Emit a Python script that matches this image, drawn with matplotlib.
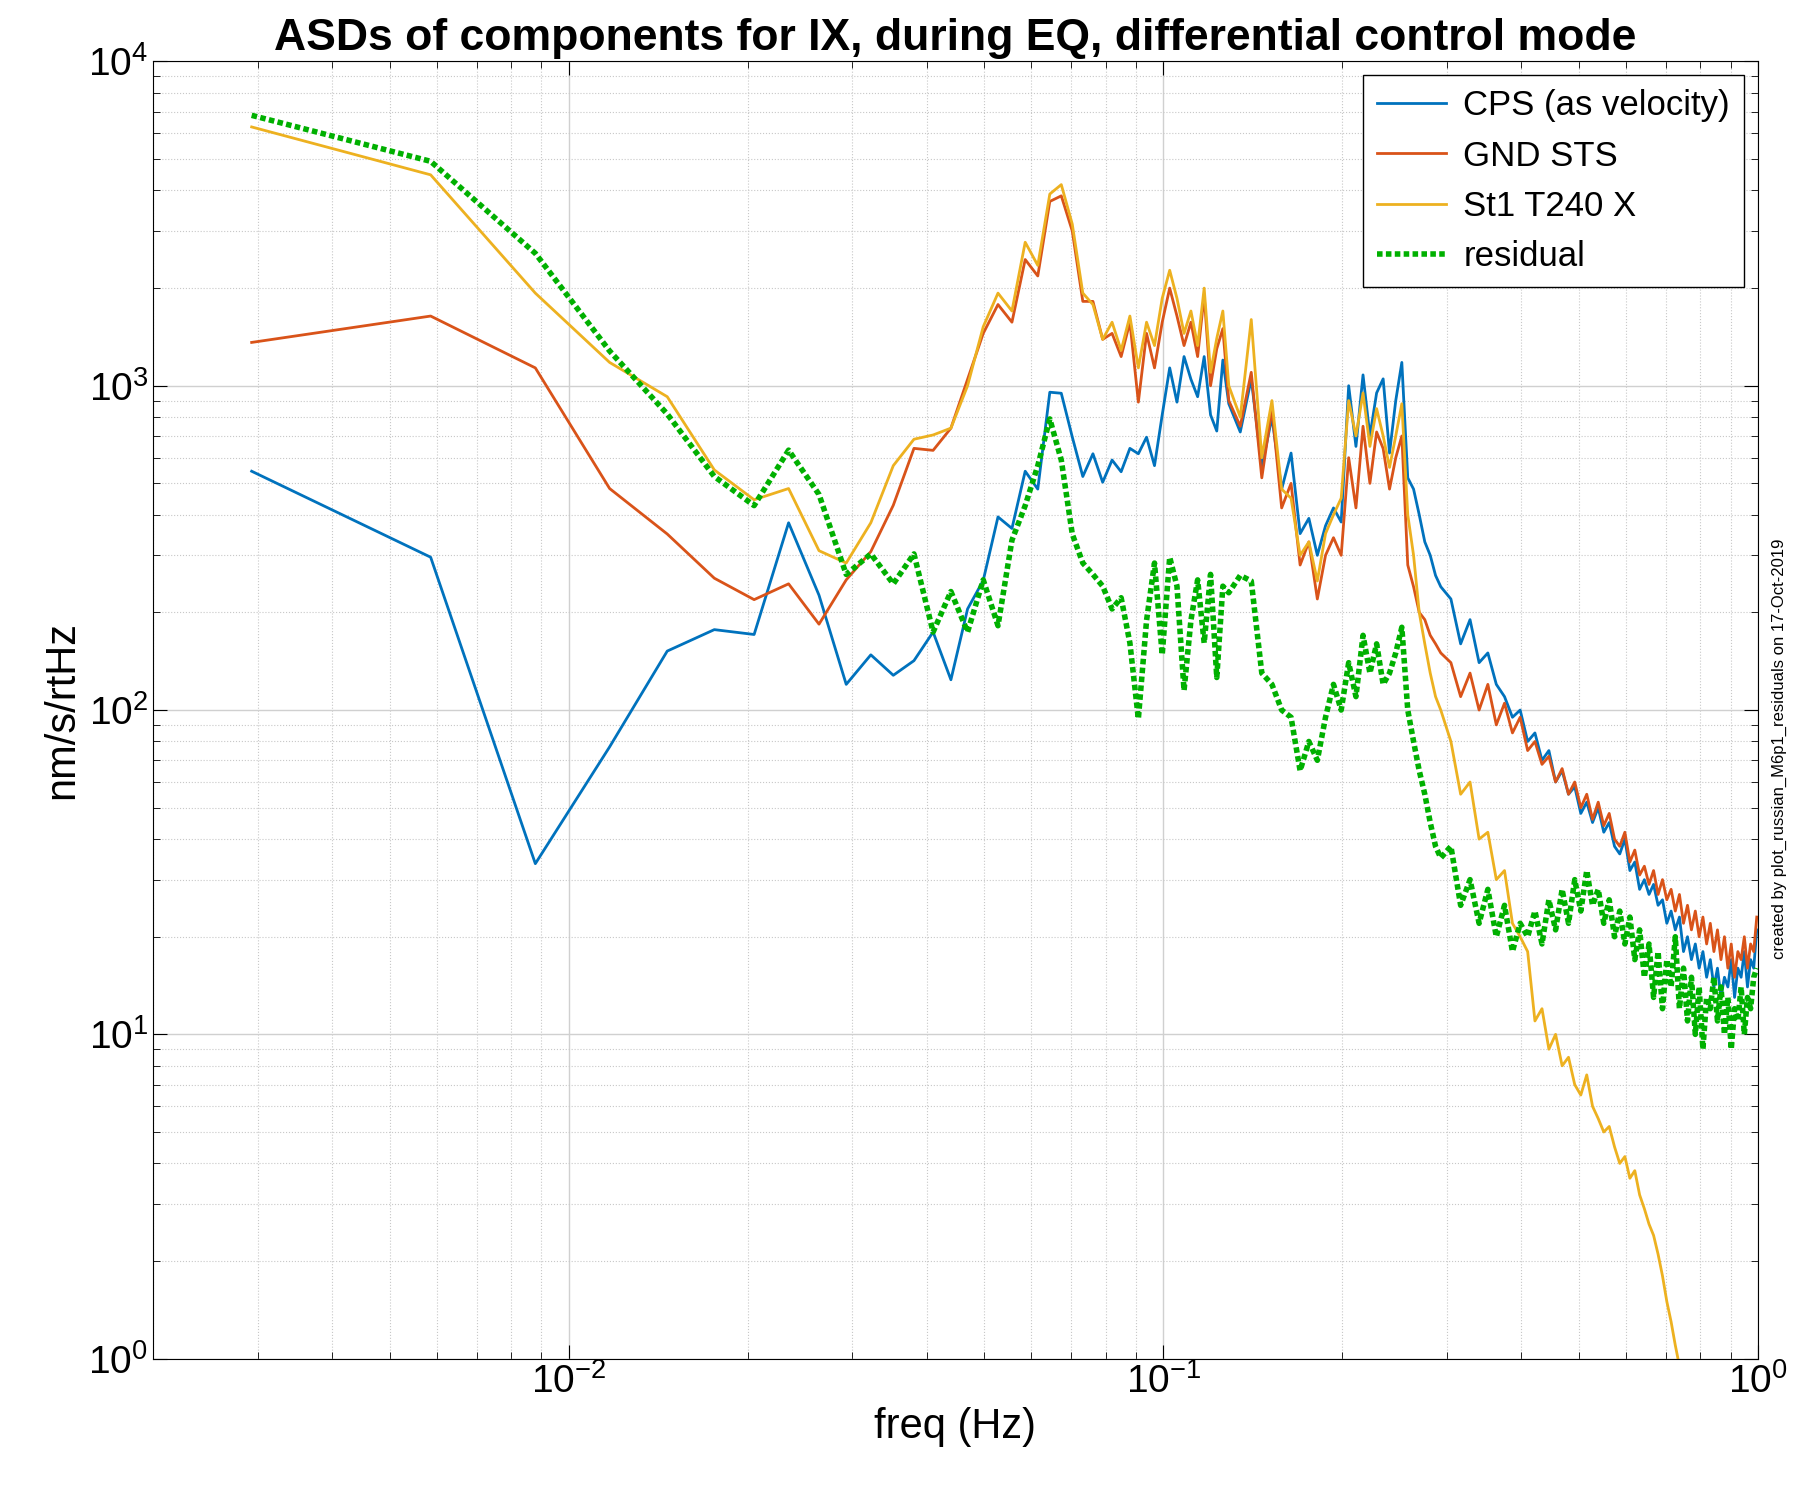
import numpy as np
import matplotlib.pyplot as plt

df = 0.0029297
# frequency bins: every bin up to k=43, every 2nd to k=100, every 4th to k=340
k = np.concatenate([np.arange(1, 44), np.arange(44, 101, 2), np.arange(104, 341, 4)])
freq = df * k

cps = [545, 296, 33.6, 77, 152, 177, 171, 378, 226, 120,
       148, 128, 142, 174, 124, 205, 251, 394, 363, 545,
       480, 955, 948, 695, 525, 617, 504, 590, 543, 641,
       617, 694, 567, 813, 1135, 890, 1230, 1047, 925, 1230,
       813, 725, 1200,
       880, 720, 1050, 560, 800, 480, 620, 350, 390, 300, 370, 420, 380, 1000, 650,
       1080, 700, 950, 1050, 620, 900, 1180, 520, 480, 400, 330, 300, 260, 240,
       220, 160, 190, 140, 150, 120, 110, 95, 100, 80, 85, 70, 75, 60, 65, 55, 58, 48, 52, 45,
       50, 42, 45, 38, 36, 40, 32, 34, 28, 30, 27, 29, 25, 26, 22, 24, 21, 23, 18, 20,
       17, 19, 16, 18, 15, 17, 14, 16, 13, 15, 14, 17, 13, 16, 15, 18, 14, 17, 16, 21]
gnd = [1360, 1640, 1135, 482, 349, 255, 219, 245, 184, 252,
       308, 428, 641, 632, 740, 1047, 1450, 1780, 1570, 2450,
       2180, 3700, 3850, 3000, 1820, 1820, 1390, 1450, 1230, 1570,
       890, 1450, 1135, 1570, 2000, 1640, 1330, 1570, 1230, 1900,
       1000, 1300, 1500,
       900, 750, 1100, 520, 850, 420, 500, 280, 330, 220, 300, 340, 300, 600, 420,
       750, 500, 720, 640, 480, 600, 700, 280, 240, 200, 190, 170, 160, 150,
       140, 110, 130, 100, 120, 90, 105, 85, 95, 75, 80, 68, 72, 60, 66, 55, 60, 50, 55, 46,
       52, 44, 48, 40, 38, 42, 34, 37, 31, 33, 29, 32, 27, 30, 26, 28, 24, 27, 22, 25,
       21, 24, 20, 23, 19, 22, 18, 21, 17, 20, 16, 19, 15, 18, 17, 20, 16, 19, 18, 23]
t240 = [6280, 4470, 1930, 1180, 925, 550, 445, 482, 310, 284,
        378, 567, 684, 705, 740, 1000, 1520, 1930, 1700, 2770,
        2350, 3900, 4170, 3150, 1930, 1780, 1390, 1570, 1285, 1640,
        1135, 1570, 1330, 1860, 2270, 1860, 1450, 1700, 1330, 2000,
        1100, 1400, 1700,
        1000, 800, 1600, 600, 900, 480, 450, 300, 330, 250, 350, 400, 450, 900, 700,
        950, 650, 850, 700, 560, 700, 880, 400, 300, 200, 160, 130, 110, 100,
        80, 55, 60, 40, 42, 30, 32, 22, 20, 18, 11, 12, 9, 10, 8, 8.5, 7, 6.5, 7.5, 6,
        5.5, 5, 5.2, 4.5, 4, 4.2, 3.6, 3.8, 3.2, 2.9, 2.6, 2.4, 2.1, 1.8, 1.5, 1.3, 1.1, 0.95, 0.85, 0.75,
        0.7, 0.65, 0.6, 0.58, 0.55, 0.52, 0.5, 0.48, 0.46, 0.44, 0.42, 0.4, 0.38, 0.36, 0.35, 0.34, 0.33, 0.32, 0.31, 0.3]
resid = [6820, 4920, 2560, 1280, 818, 525, 427, 633, 462, 262,
         303, 245, 303, 174, 232, 174, 252, 182, 334, 427,
         567, 790, 590, 349, 284, 262, 241, 205, 222, 161,
         94, 189, 284, 148, 296, 241, 115, 189, 252, 161,
         262, 126, 241,
         230, 260, 250, 130, 120, 100, 95, 65, 80, 70, 95, 120, 100, 140, 110,
         170, 130, 160, 120, 130, 150, 180, 100, 80, 65, 55, 45, 38, 35,
         38, 25, 30, 22, 28, 20, 25, 18, 22, 20, 24, 19, 26, 21, 28, 22, 30, 24, 32, 25,
         28, 22, 26, 20, 24, 19, 23, 17, 21, 15, 19, 13, 18, 12, 17, 14, 20, 12, 16, 11,
         15, 10, 14, 9, 13, 12, 15, 11, 14, 10, 13, 9, 12, 11, 14, 10, 13, 12, 15, 16]

plt.rcParams['font.family'] = ['Liberation Sans', 'DejaVu Sans']
fig = plt.figure(figsize=(18.01, 14.98), dpi=100)
ax = fig.add_axes([0.085, 0.093, 0.891, 0.866])

ax.loglog(freq, cps, color='#0072BD', lw=2, label='CPS (as velocity)')
ax.loglog(freq, gnd, color='#D95319', lw=2, label='GND STS')
ax.loglog(freq, t240, color='#EDB120', lw=2, label='St1 T240 X')
ax.loglog(freq, resid, color='#00B000', lw=4, ls=(0, (1, 0.6)), label='residual')

ax.set_xlim(0.002, 1)
ax.set_ylim(1, 1e4)
ax.grid(True, which='major', color='#d0d0d0', lw=1)
ax.grid(True, which='minor', color='#c8c8c8', lw=0.8, ls=':')
ax.tick_params(which='both', direction='in', top=True, right=True, labelsize=28)
ax.tick_params(which='major', length=10)
ax.tick_params(which='minor', length=5)
ax.set_xlabel('freq (Hz)', fontsize=30)
ax.set_ylabel('nm/s/rtHz', fontsize=30)
ax.set_title('ASDs of components for IX, during EQ, differential control mode',
             fontsize=32, fontweight='bold', pad=8)
leg = ax.legend(loc='upper right', fontsize=25, fancybox=False, framealpha=1,
                handlelength=2.0, handletextpad=0.5, borderaxespad=0.4)
leg.get_frame().set_edgecolor('black')
fig.text(0.988, 0.5, 'created by plot_russian_M6p1_residuals on 17-Oct-2019',
         rotation=90, fontsize=12, va='center', ha='center')
fig.savefig('out.png')
